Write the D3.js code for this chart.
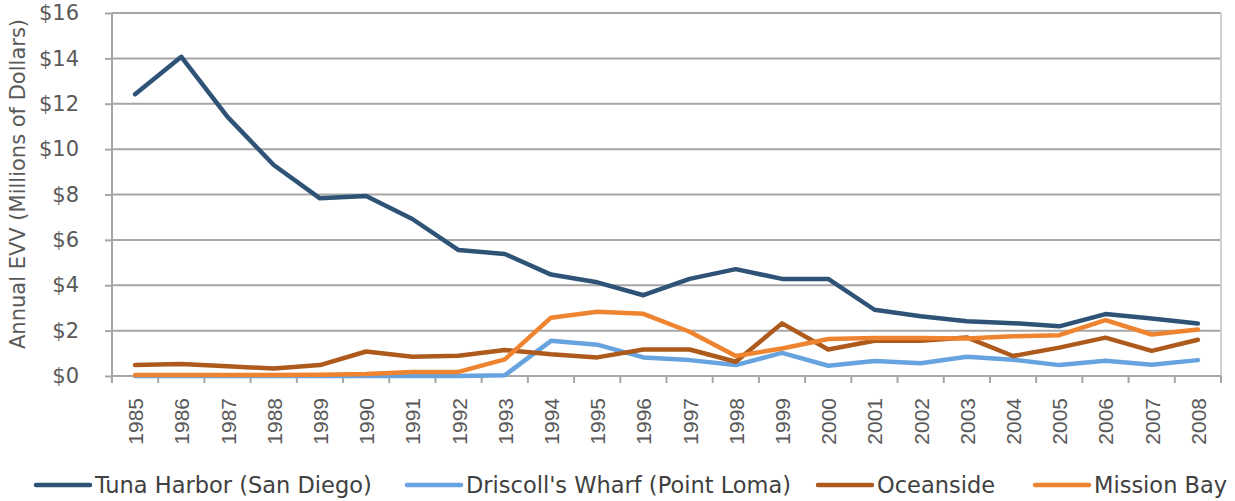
<!DOCTYPE html>
<html><head><meta charset="utf-8">
<script src="https://cdn.jsdelivr.net/npm/d3@7"></script>
<style>
html,body{margin:0;padding:0;background:#fff;}
svg{display:block;font-family:"DejaVu Sans",sans-serif;}
</style></head>
<body><svg id="c" width="1235" height="501"></svg>
<script>
const years = [1985,1986,1987,1988,1989,1990,1991,1992,1993,1994,1995,1996,1997,1998,1999,2000,2001,2002,2003,2004,2005,2006,2007,2008];
const tunaHarbor = [12.42,14.07,11.42,9.3,7.83,7.93,6.92,5.55,5.38,4.47,4.13,3.56,4.28,4.71,4.28,4.28,2.92,2.63,2.41,2.33,2.19,2.73,2.53,2.31];
const driscollsWharf = [0,0,0,0,0,0,0,0,0.03,1.55,1.38,0.82,0.7,0.48,1.02,0.45,0.66,0.56,0.85,0.72,0.48,0.67,0.5,0.7];
const oceanside = [0.48,0.53,0.43,0.33,0.48,1.08,0.85,0.89,1.15,0.96,0.82,1.17,1.17,0.63,2.32,1.17,1.55,1.55,1.7,0.88,1.25,1.69,1.11,1.6];
const missionBay = [0.04,0.04,0.04,0.04,0.05,0.09,0.18,0.18,0.73,2.57,2.83,2.74,1.95,0.88,1.21,1.63,1.67,1.68,1.65,1.75,1.8,2.46,1.83,2.05];
const seriesNames = ["Tuna Harbor (San Diego)","Driscoll's Wharf (Point Loma)","Oceanside","Mission Bay"];
const seriesColors = ["#2f5377","#67a3df","#ad5a1c","#ee8430"];
const yTicks = [0,2,4,6,8,10,12,14,16];
const yTitle = "Annual EVV (Millions of Dollars)";

const seriesData = [tunaHarbor, driscollsWharf, oceanside, missionBay];
const svg = d3.select("#c");
const m = {left:112, right:1221, top:13, bottom:376};
const x = d3.scaleBand().domain(years).range([m.left, m.right]).padding(0);
const y = d3.scaleLinear().domain([0,16]).range([m.bottom, m.top]);
const grid = "#a6a6a6";
const txt = "#595959";

svg.append("g").selectAll("line").data(yTicks.filter(d=>d>0)).join("line")
  .attr("x1", m.left).attr("x2", m.right)
  .attr("y1", d=>y(d)).attr("y2", d=>y(d))
  .attr("stroke", grid).attr("stroke-width", 2);
svg.append("line").attr("x1", m.right).attr("x2", m.right).attr("y1", m.top).attr("y2", m.bottom)
  .attr("stroke", "#d0d0d0").attr("stroke-width", 2);

const yAxis = svg.append("g").attr("transform", `translate(${m.left},0)`)
  .call(d3.axisLeft(y).tickValues(yTicks).tickFormat(d=>"$"+d).tickSize(7).tickPadding(26));
yAxis.select(".domain").attr("stroke", grid).attr("stroke-width", 2).attr("d", `M0,${m.top}V${m.bottom}`);
yAxis.selectAll(".tick line").attr("stroke", grid).attr("stroke-width", 2);
yAxis.selectAll(".tick text").attr("fill", txt).style("font-size", "21px")
  .style("font-family", "DejaVu Sans, sans-serif");

const xAxis = svg.append("g").attr("transform", `translate(0,${m.bottom})`)
  .call(d3.axisBottom(x).tickValues([]).tickSize(0));
xAxis.select(".domain").attr("stroke", grid).attr("stroke-width", 2).attr("d", `M${m.left},0H${m.right}`);
const bounds = years.map(d=>x(d)).concat([m.right]);
xAxis.selectAll("line.bt").data(bounds).join("line").attr("class","bt")
  .attr("x1", d=>d).attr("x2", d=>d).attr("y1", 0).attr("y2", 7)
  .attr("stroke", grid).attr("stroke-width", 2);
xAxis.selectAll("text.yl").data(years).join("text").attr("class","yl")
  .attr("transform", d=>`translate(${x(d)+x.bandwidth()/2+8},22) rotate(-90)`)
  .attr("text-anchor", "end").attr("fill", txt)
  .style("font-size", "21px").text(d=>d);

svg.append("text").attr("transform", `translate(25,${184}) rotate(-90)`)
  .attr("text-anchor","middle").attr("fill", txt).style("font-size","21px").text(yTitle);

const line = d3.line().x((d,i)=>x(years[i])+x.bandwidth()/2).y(d=>y(d));
svg.append("g").selectAll("path").data(seriesData).join("path")
  .attr("d", d=>line(d)).attr("fill","none")
  .attr("stroke", (d,i)=>seriesColors[i]).attr("stroke-width", 4.5)
  .attr("stroke-linejoin","round").attr("stroke-linecap","round");

const legendX = [36, 407, 818, 1035];
const lg = svg.append("g").selectAll("g").data(seriesNames).join("g")
  .attr("transform", (d,i)=>`translate(${legendX[i]},485)`);
lg.append("line").attr("x1",0).attr("x2",54).attr("y1",0).attr("y2",0)
  .attr("stroke",(d,i)=>seriesColors[i]).attr("stroke-width",4.5).attr("stroke-linecap","round");
lg.append("text").attr("x",59).attr("y",8).attr("fill","#404040").style("font-size","22.5px").text(d=>d);
</script></body></html>
